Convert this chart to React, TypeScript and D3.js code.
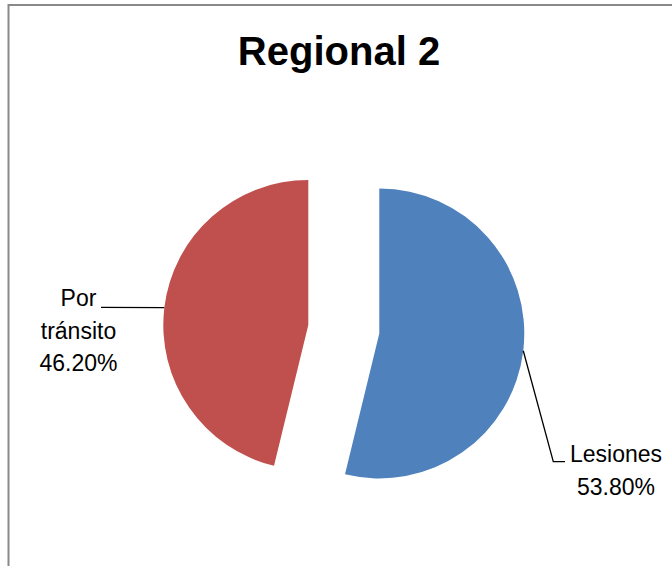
import React from 'react';
import * as d3 from 'd3';

// chart data
const categories = ['Lesiones', 'Por tránsito'];
const values = [53.8, 46.2];
const percentLabels = ['53.80%', '46.20%'];
const nameLines = [['Lesiones'], ['Por', 'tránsito']];
const colors = ['#4F81BD', '#C0504D'];
const title = 'Regional 2';

const width = 672;
const height = 566;
const center = { x: 343.8, y: 329.2 };
const radius = 145;
const explode = 35.75;
const font = '"Liberation Sans", Arial, sans-serif';

// label layout (leader elbow + text anchor), per slice
const labelLayout = [
  { elbow: [553.3, 461.7], end: [565, 461.7], textX: 616, textY: 461.7, lineH: 33.3 },
  { elbow: null, end: [101, 307.3], textX: 78.5, textY: 306, lineH: 32.6 },
];

const App = () => {
  const pie = d3.pie<number>().sort(null).value(d => d)(values);
  const arc = d3.arc<d3.PieArcDatum<number>>().innerRadius(0).outerRadius(radius);

  return (
    <svg width={width} height={height} style={{ position: 'absolute', left: 0, top: 0, background: '#fff' }}>
      {/* chart area border (continues past right and bottom) */}
      <path d={`M8.5,${height + 5} V5 H${width + 5}`} fill="none" stroke="#898989" strokeWidth={2} />
      <text x={339} y={65} textAnchor="middle" fontFamily={font} fontWeight="bold" fontSize={40} fill="#000">
        {title}
      </text>
      <g transform={`translate(${center.x},${center.y})`}>
        {pie.map((d, i) => {
          const mid = (d.startAngle + d.endAngle) / 2;
          const ox = Math.sin(mid) * explode;
          const oy = -Math.cos(mid) * explode;
          return (
            <path key={categories[i]} d={arc(d) || ''} transform={`translate(${ox},${oy})`} fill={colors[i]} />
          );
        })}
      </g>
      {pie.map((d, i) => {
        const mid = (d.startAngle + d.endAngle) / 2;
        const r = radius + explode;
        const sx = center.x + Math.sin(mid) * r;
        const sy = center.y - Math.cos(mid) * r;
        const L = labelLayout[i];
        const pts: [number, number][] = [[sx, sy]];
        if (L.elbow) pts.push(L.elbow as [number, number]);
        pts.push(L.end as [number, number]);
        const lines = [...nameLines[i], percentLabels[i]];
        return (
          <g key={'lbl' + i}>
            <path d={d3.line()(pts) || ''} fill="none" stroke="#000" strokeWidth={1.3} />
            {lines.map((t, j) => (
              <text key={j} x={L.textX} y={L.textY + j * L.lineH} textAnchor="middle" fontFamily={font} fontSize={23} fill="#000">
                {t}
              </text>
            ))}
          </g>
        );
      })}
    </svg>
  );
};

export default App;
